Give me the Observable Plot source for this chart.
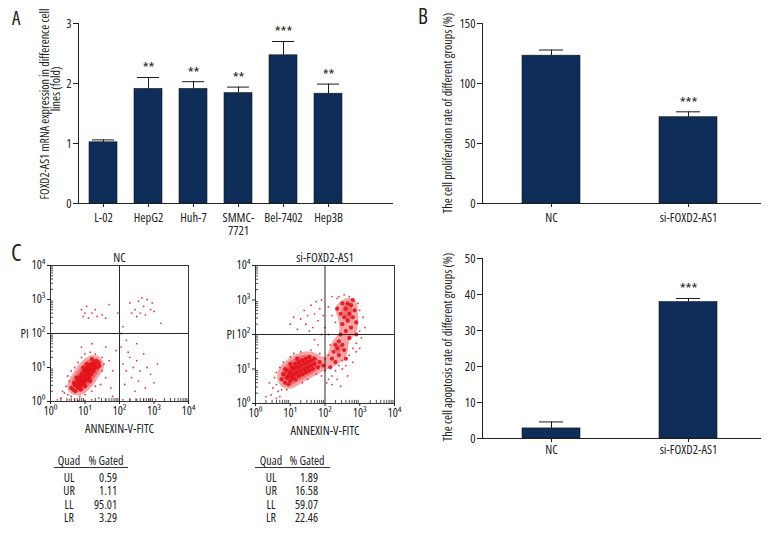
<!DOCTYPE html>
<html><head><meta charset="utf-8">
<script src="https://cdn.jsdelivr.net/npm/d3@7"></script>
<script src="https://cdn.jsdelivr.net/npm/@observablehq/plot@0.6"></script>
<style>
body{margin:0;background:#fff;}
#root{position:relative;width:780px;height:540px;overflow:hidden;color:#222;}
#root svg, #root svg text{font-stretch:inherit;}
.pane{position:absolute;}
.abs{position:absolute;white-space:nowrap;line-height:1;}
.rot{position:absolute;white-space:pre;line-height:1;transform:translate(-50%,-50%) rotate(-90deg);font-size:12px;}
</style>
</head><body><div id="root"></div>
<script>
// ---------- data ----------
const cellLines = ["L-02","HepG2","Huh-7","SMMC-7721","Bel-7402","Hep3B"];
const cellLineLabels = ["L-02","HepG2","Huh-7","SMMC-\n7721","Bel-7402","Hep3B"];
const expressionFold = [1.02,1.91,1.91,1.84,2.47,1.83];
const expressionErr = [0.04,0.19,0.12,0.10,0.23,0.16];
const expressionStars = ["","**","**","**","***","**"];
const groups = ["NC","si-FOXD2-AS1"];
const proliferation = [123.2,71.9];
const proliferationErr = [4.7,4.5];
const apoptosis = [2.8,37.9];
const apoptosisErr = [1.8,1.0];
const groupStars = ["","***"];
const quads = ["UL","UR","LL","LR"];
const gatedNC = ["0.59","1.11","95.01","3.29"];
const gatedSi = ["1.89","16.58","59.07","22.46"];
const decadeTicks = [0,1,2,3,4];
const decadeLabels = ["10\u2070","10\u00b9","10\u00b2","10\u00b3","10\u2074"];
const gateLog = 2;
// flow cytometry events, [log10 Annexin, log10 PI]
const ncCore = [[0.65,0.35],[0.7,0.5],[0.72,0.3],[0.75,0.45],[0.78,0.6],[0.8,0.4],[0.82,0.55],[0.85,0.7],[0.85,0.45],[0.88,0.6],[0.9,0.8],[0.9,0.5],[0.92,0.65],[0.95,0.75],[0.95,0.55],[0.97,0.9],[1.0,0.7],[1.0,0.6],[1.02,0.85],[1.03,0.95],[1.05,0.75],[1.05,0.65],[1.07,1.0],[1.08,0.85],[1.1,0.8],[1.1,0.95],[1.12,0.7],[1.13,1.05],[1.15,0.9],[1.17,0.8],[1.18,1.1],[1.2,0.95],[1.22,1.05],[1.25,0.9],[1.25,1.15],[1.28,1.0],[1.3,1.1],[1.33,1.2],[1.35,1.0],[1.4,1.15],[0.75,0.7],[0.68,0.55],[0.6,0.4],[0.88,0.35],[1.0,0.45],[1.15,0.6],[0.95,1.0],[1.05,1.1],[1.2,1.25],[1.42,1.05]];
const ncSparse = [[0.3,0.1],[0.4,0.25],[0.5,0.2],[0.45,0.45],[0.55,0.6],[0.6,0.15],[0.55,0.05],[0.2,0.05],[0.35,0.3],[0.5,0.75],[0.6,0.9],[0.7,1.0],[0.8,1.15],[0.9,1.3],[1.0,1.4],[1.15,1.45],[1.3,1.4],[1.5,1.3],[1.5,0.9],[1.55,1.1],[1.6,0.7],[1.45,0.5],[1.3,0.45],[1.2,0.3],[1.0,0.2],[0.85,0.15],[0.7,0.05],[1.6,1.6],[1.7,1.2],[1.8,0.9],[1.9,1.5],[1.75,0.4],[0.9,1.6],[1.2,1.7],
  [0.9,2.7],[1.0,2.6],[1.1,2.45],[1.2,2.6],[1.3,2.7],[1.5,2.55],[1.35,2.5],[1.7,2.85],[1.95,2.6],[1.05,2.8],[0.95,2.5],[1.6,2.45],
  [2.3,2.9],[2.45,2.7],[2.55,2.95],[2.6,2.6],[2.7,2.8],[2.8,3.0],[2.9,2.7],[2.95,2.9],[2.5,2.5],[2.35,2.6],[3.0,2.65],[2.75,2.55],[3.2,2.3],[2.1,2.2],[2.65,3.05],
  [2.05,1.6],[2.1,1.1],[2.15,0.5],[2.2,0.9],[2.3,1.3],[2.35,0.7],[2.4,1.0],[2.45,0.3],[2.5,1.2],[2.55,0.6],[2.6,0.9],[2.7,1.4],[2.75,0.4],[2.8,1.0],[2.9,0.8],[3.0,0.55],[3.1,1.1],[2.2,1.8],[2.5,1.7],[2.1,0.05],[2.3,0.05],[2.5,0.05],[2.7,0.05],[2.85,0.05],[3.05,0.05],[2.05,2.0],[2.25,1.45],
  [0.8,0.02],[1.0,0.03],[1.2,0.05],[1.4,0.1],[1.6,0.05],[1.8,0.15]];
const siCore = [[0.75,0.7],[0.8,0.85],[0.85,0.6],[0.9,0.75],[0.9,0.95],[0.95,0.8],[1.0,0.65],[1.0,0.9],[1.05,1.05],[1.05,0.75],[1.1,0.85],[1.1,1.0],[1.15,0.7],[1.15,1.15],[1.2,0.9],[1.2,1.05],[1.25,0.8],[1.25,1.2],[1.3,0.95],[1.3,1.1],[1.35,1.25],[1.35,0.85],[1.4,1.0],[1.4,1.15],[1.45,1.3],[1.45,0.9],[1.5,1.05],[1.5,1.2],[1.55,1.35],[1.55,0.95],[1.6,1.1],[1.6,1.25],[1.65,1.0],[1.7,1.15],[1.7,1.3],[1.8,1.05],[1.85,1.2],[1.95,1.1],[0.85,1.0],[0.95,0.55],[1.2,1.3],[1.0,1.15],
  [2.15,1.05],[2.2,1.3],[2.25,1.5],[2.3,1.7],[2.3,1.2],[2.35,1.6],[2.4,1.8],[2.4,1.4],[2.45,2.0],[2.5,1.7],[2.5,2.3],[2.55,1.55],[2.55,2.5],[2.6,2.1],[2.6,2.75],[2.65,2.4],[2.65,2.9],[2.7,2.6],[2.7,1.9],[2.75,2.2],[2.75,2.85],[2.8,2.5],[2.8,3.0],[2.85,2.7],[2.9,2.35],[2.5,2.9],[2.45,2.6],[2.35,2.75],[2.9,2.0],[2.6,1.3]];
const siSparse = [[0.4,0.6],[0.5,0.45],[0.55,0.75],[0.6,0.9],[0.6,0.55],[0.65,0.35],[0.7,1.05],[0.8,1.2],[0.75,0.4],[0.9,0.4],[1.0,1.35],[1.1,1.45],[1.3,1.5],[1.35,0.6],[1.5,0.7],[1.6,1.55],[1.75,0.85],[1.85,1.45],[1.9,0.8],[2.0,1.3],[2.0,0.95],[2.1,0.7],[0.7,0.2],[0.6,0.15],[0.45,0.25],[0.3,0.2],[1.8,1.7],[1.7,1.85],[1.9,2.0],
  [1.0,2.3],[1.1,2.5],[1.2,2.15],[1.3,2.45],[1.4,2.7],[1.45,2.3],[1.5,2.55],[1.6,2.85],[1.65,2.2],[1.7,2.6],[1.75,2.95],[1.8,2.4],[1.85,2.75],[1.9,3.0],[1.95,2.55],[2.0,2.2],[1.55,2.1],
  [2.1,2.8],[2.2,2.55],[2.2,3.1],[2.3,2.35],[2.35,3.05],[3.0,2.7],[3.0,2.1],[3.05,1.9],[3.1,2.5],[3.0,1.6],[2.9,1.5],[2.95,2.9],[2.4,3.1],[2.55,3.15],[2.7,3.1],[3.15,2.2],[2.1,2.0],[2.15,1.7],
  [2.1,1.4],[2.2,0.8],[2.3,0.95],[2.4,1.1],[2.5,1.0],[2.5,1.25],[2.6,1.1],[2.7,1.4],[2.8,1.6],[2.8,1.2],[2.9,1.75],[2.35,0.7],[2.2,0.55],[2.05,0.6],[2.65,0.8],[2.45,0.5]];

// ---------- font choice: a condensed face if one can be had ----------
function measure(family, stretch) {
  const s = document.createElement("span");
  s.style.cssText = `position:absolute;visibility:hidden;white-space:nowrap;font-size:20px;font-family:${family};font-stretch:${stretch}`;
  s.textContent = "FOXD2-AS1 mRNA expression in difference";
  document.body.appendChild(s);
  const w = s.getBoundingClientRect().width; s.remove(); return w;
}
let FONT = '"Liberation Sans", sans-serif', STRETCH = "100%", SHRINK = 0.92;
for (const fam of ['"Open Sans"', 'Roboto', '"Noto Sans"', '"DejaVu Sans"']) {
  if (measure(fam, "75%") < 0.88 * measure(fam, "100%")) { FONT = fam + ", sans-serif"; STRETCH = "75%"; SHRINK = 1; break; }
}
const root = document.getElementById("root");
root.style.fontFamily = FONT; root.style.fontStretch = STRETCH;
const fs = v => (v * SHRINK).toFixed(1) + "px";

// ---------- helpers ----------
const NAVY = "#0e2d58";
const INK = "#222";
const RED = "#e3121b";

function place(node, left, top) {
  const d = document.createElement("div");
  d.className = "pane";
  d.style.left = left + "px"; d.style.top = top + "px";
  d.appendChild(node); root.appendChild(d);
}
function label(text, x, y, cls, extra) {
  const d = document.createElement("div");
  d.className = cls; d.textContent = text;
  d.style.left = x + "px"; d.style.top = y + "px";
  Object.assign(d.style, extra || {});
  root.appendChild(d); return d;
}

function barChart(o) {
  const data = o.cats.map((c, i) => ({cat: c, v: o.values[i], e: o.values[i] + o.errs[i], star: o.stars[i]}));
  return Plot.plot({
    width: o.width, height: o.height,
    marginLeft: o.ml, marginRight: o.mr, marginTop: o.mt, marginBottom: o.mb,
    style: {fontFamily: FONT, fontSize: fs(12.5), color: INK, background: "transparent", fontStretch: STRETCH},
    x: {type: "band", domain: o.cats, range: o.xRange, paddingInner: o.pad, paddingOuter: 0, align: 0,
        line: true, tickSize: 4, tickPadding: o.xPad, label: null, tickFormat: d => o.labels[o.cats.indexOf(d)]},
    y: {domain: o.yDomain, ticks: o.yTicks, tickFormat: d3.format("d"), line: true, tickSize: 5, tickPadding: 2, label: null},
    marks: [
      Plot.barY(data, {x: "cat", y: "v", fill: NAVY, stroke: "#1a1a1a", strokeWidth: 0.6}),
      Plot.ruleX(data, {x: "cat", y1: "v", y2: "e", stroke: "#1a1a1a", strokeWidth: 1}),
      Plot.tickY(data, {x: "cat", y: "e", insetLeft: o.cap, insetRight: o.cap, stroke: "#1a1a1a", strokeWidth: 1}),
      Plot.text(data, {x: "cat", y: "e", text: "star", dy: -9, fontSize: 15, fill: INK})
    ]
  });
}

function flowChart(o) {
  const minor = [];
  decadeTicks.slice(0, -1).forEach(d => { for (let k = 2; k <= 9; k++) minor.push(d + Math.log10(k)); });
  const fmt = d => decadeLabels[decadeTicks.indexOf(d)];
  const X = d => d[0], Y = d => d[1];
  return Plot.plot({
    width: o.width, height: o.height,
    marginLeft: o.ml, marginRight: o.mr, marginTop: o.mt, marginBottom: o.mb,
    style: {fontFamily: FONT, fontSize: fs(12), color: INK, background: "transparent", fontStretch: STRETCH},
    x: {domain: [0, 4], ticks: decadeTicks, tickFormat: fmt, tickSize: 3, tickPadding: 2, label: null},
    y: {domain: [0, 4], ticks: decadeTicks, tickFormat: fmt, tickSize: 3, tickPadding: 2, label: null},
    marks: [
      Plot.density(o.core, {x: X, y: Y, bandwidth: 3.5, thresholds: 5, fill: RED, fillOpacity: 0.38, stroke: "none"}),
      Plot.dot(o.core, {x: X, y: Y, r: 2.1, fill: RED, fillOpacity: 0.9, stroke: "none"}),
      Plot.dot(o.sparse, {x: X, y: Y, r: 0.9, fill: RED, fillOpacity: 0.85, stroke: "none"}),
      Plot.ruleX(minor, {y1: 0, y2: 0.09, stroke: INK, strokeWidth: 0.8}),
      Plot.ruleY(minor, {x1: 0, x2: 0.09, stroke: INK, strokeWidth: 0.8}),
      Plot.ruleX([gateLog], {stroke: "#111", strokeWidth: 0.9}),
      Plot.ruleY([gateLog], {stroke: "#111", strokeWidth: 0.9}),
      Plot.frame({stroke: "#222", strokeWidth: 0.9}),
      Plot.text([o.title], {frameAnchor: "top", lineAnchor: "bottom", dy: -4, fontSize: fs(12.5), fill: INK}),
      Plot.text(["PI"], {frameAnchor: "left", dx: o.piDx, fontSize: fs(12.5), fill: INK}),
      Plot.text(["ANNEXIN-V-FITC"], {frameAnchor: "bottom", dy: 31, fontSize: fs(12.5), fill: INK})
    ]
  });
}

function gatedTable(values, x0, x1, quadX, gatedX, valueRight) {
  const st = c => ({fontSize: fs(12), transform: c});
  label("Quad", quadX, 455, "abs", st("translateX(-50%)"));
  label("% Gated", gatedX, 455, "abs", st("translateX(-50%)"));
  const line = document.createElement("div");
  Object.assign(line.style, {position: "absolute", left: x0 + "px", top: "467px", width: (x1 - x0) + "px", height: "0", borderTop: "1.2px solid #333"});
  root.appendChild(line);
  const rowTop = [472, 485.3, 498.6, 512];
  quads.forEach((q, i) => {
    label(q, quadX, rowTop[i], "abs", st("translateX(-50%)"));
    label(values[i], valueRight, rowTop[i], "abs", st("translateX(-100%)"));
  });
}

// ---------- panel A ----------
place(barChart({cats: cellLines, labels: cellLineLabels, values: expressionFold, errs: expressionErr, stars: expressionStars,
  width: 400, height: 240, ml: 78, mr: 8, mt: 23, mb: 37, xRange: [89, 344], pad: 0.38, cap: 3, xPad: 6,
  yDomain: [0, 3], yTicks: [0, 1, 2, 3]}), 0, 0);
label("FOXD2-AS1 mRNA expression in difference cell", 45, 104, "rot", {fontSize: fs(12)});
label("lines (fold)", 56, 89, "rot", {fontSize: fs(12)});

// ---------- panel B ----------
place(barChart({cats: groups, labels: groups, values: proliferation, errs: proliferationErr, stars: groupStars,
  width: 340, height: 240, ml: 42, mr: 20, mt: 23, mb: 37, xRange: [82, 277], pad: 0.58, cap: 17, xPad: 6,
  yDomain: [0, 150], yTicks: [0, 50, 100, 150]}), 440, 0);
label("The cell proliferation rate of different groups (%)", 448, 113, "rot", {fontSize: fs(12)});

// ---------- apoptosis bar ----------
place(barChart({cats: groups, labels: groups, values: apoptosis, errs: apoptosisErr, stars: groupStars,
  width: 340, height: 240, ml: 42, mr: 20, mt: 18, mb: 42, xRange: [82, 277], pad: 0.58, cap: 17, xPad: 3,
  yDomain: [0, 50], yTicks: [0, 10, 20, 30, 40, 50]}), 440, 240);
label("The cell apoptosis rate of different groups (%)", 448, 347, "rot", {fontSize: fs(12)});

// ---------- panel C: flow plots ----------
place(flowChart({core: ncCore, sparse: ncSparse, title: "NC", piDx: -30,
  width: 210, height: 200, ml: 50, mr: 22, mt: 25, mb: 39}), 0, 240);
place(flowChart({core: siCore, sparse: siSparse, title: "si-FOXD2-AS1", piDx: -29,
  width: 210, height: 200, ml: 55, mr: 16, mt: 25, mb: 37}), 200, 240);

gatedTable(gatedNC, 54, 128, 69, 106, 117);
gatedTable(gatedSi, 255, 330, 271, 307, 318);

// ---------- panel letters ----------
label("A", 12, 9, "abs", {fontSize: "19px"});
label("B", 418, 6, "abs", {fontSize: "21px"});
label("C", 11, 240, "abs", {fontSize: "24px"});
</script>
</body></html>
